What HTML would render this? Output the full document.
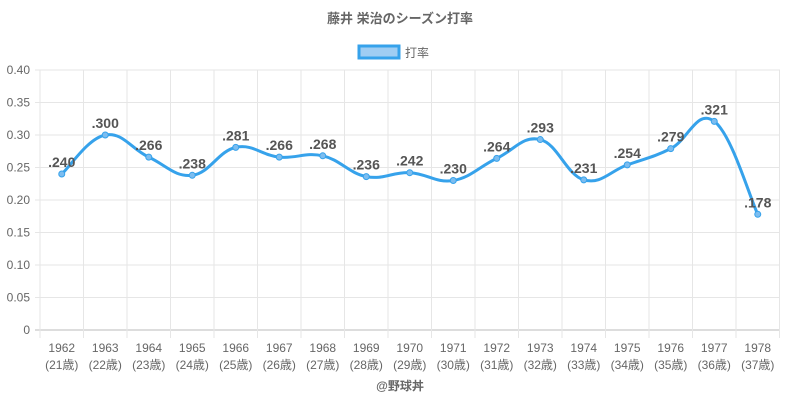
<!DOCTYPE html><html><head><meta charset="utf-8"><style>body{margin:0;background:#fff}svg{display:block}text{font-family:"Liberation Sans","Noto Sans CJK JP",sans-serif}</style></head><body>
<svg id="s" width="800" height="400" xmlns="http://www.w3.org/2000/svg">
<text x="400" y="23" text-anchor="middle" font-size="13" font-weight="bold" fill="#666">藤井 栄治のシーズン打率</text>
<rect x="359" y="46" width="40" height="12" fill="#9fcdf3" stroke="#36a2eb" stroke-width="3"/>
<text x="405" y="57" font-size="12" fill="#666">打率</text>
<text x="400" y="390" text-anchor="middle" font-size="12" font-weight="bold" fill="#666">@野球丼</text>
<g id="g"></g>
</svg>
<script>
var v=[.240,.300,.266,.238,.281,.266,.268,.236,.242,.230,.264,.293,.231,.254,.279,.321,.178];
var g=document.getElementById('g'),h='';
for(var i=0;i<=8;i++){var y=330-i*32.5;h+='<line x1="35" x2="780" y1="'+y+'" y2="'+y+'" stroke="'+(i==0?'#bbb':'#e6e6e6')+'"/>';h+='<text x="30" y="'+(y+4)+'" text-anchor="end" font-size="12" fill="#666">'+(i==0?'0':(i*0.05).toFixed(2))+'</text>';}
for(var i=0;i<=17;i++){var x=40+i*43.5;h+='<line x1="'+x+'" x2="'+x+'" y1="70" y2="338" stroke="#e6e6e6"/>';}
var P=v.map(function(a,i){return [61.75+i*43.5,330-a*650]});
for(var i=0;i<17;i++){h+='<text x="'+P[i][0]+'" y="352" text-anchor="middle" font-size="12" fill="#666">'+(1962+i)+'</text><text x="'+P[i][0]+'" y="369" text-anchor="middle" font-size="12" fill="#666">('+(21+i)+'歳)</text>';}
var d='M'+P[0][0]+','+P[0][1],t=0.4;
for(var i=0;i<16;i++){var p0=P[Math.max(i-1,0)],p1=P[i],p2=P[i+1],p3=P[Math.min(i+2,16)];
var c1=[p1[0]+(p2[0]-p0[0])*t/2,p1[1]+(p2[1]-p0[1])*t/2],c2=[p2[0]-(p3[0]-p1[0])*t/2,p2[1]-(p3[1]-p1[1])*t/2];
d+=' C'+c1+' '+c2+' '+p2;}
h+='<path d="'+d+'" fill="none" stroke="#36a2eb" stroke-width="3"/>';
for(var i=0;i<17;i++){h+='<circle cx="'+P[i][0]+'" cy="'+P[i][1]+'" r="3" fill="#7cbdf0" stroke="#36a2eb" stroke-width="1"/>';
h+='<text x="'+P[i][0]+'" y="'+(P[i][1]-7)+'" text-anchor="middle" font-size="14" font-weight="bold" fill="#555">'+v[i].toFixed(3).slice(1)+'</text>';}
g.innerHTML=h;
</script></body></html>
